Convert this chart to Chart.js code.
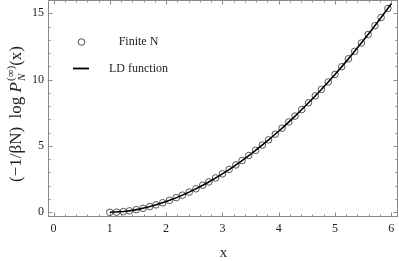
<!DOCTYPE html>
<html>
<head>
<meta charset="utf-8">
<script src="https://cdn.jsdelivr.net/npm/chart.js@4"></script>
<style>
  html, body { margin: 0; padding: 0; background: #fff; }
  #wrap { width: 399px; height: 261px; }
</style>
</head>
<body>
<div id="wrap"><canvas id="chart"></canvas></div>
<script>
// finite N points (circles)
const finiteX = [1.00, 1.12, 1.24, 1.35, 1.47, 1.59, 1.71, 1.82, 1.94, 2.06, 2.18, 2.29, 2.41, 2.53, 2.65,
  2.76, 2.88, 3.00, 3.12, 3.24, 3.35, 3.47, 3.59, 3.71, 3.82, 3.94, 4.06, 4.18, 4.29, 4.41,
  4.53, 4.65, 4.76, 4.88, 5.00, 5.12, 5.24, 5.35, 5.47, 5.59, 5.71, 5.82, 5.94];
const finiteY = [0.00, 0.01, 0.05, 0.11, 0.20, 0.30, 0.43, 0.56, 0.72, 0.90, 1.10, 1.29, 1.52, 1.77, 2.04,
  2.29, 2.59, 2.90, 3.23, 3.57, 3.90, 4.28, 4.67, 5.07, 5.46, 5.89, 6.34, 6.81, 7.25, 7.74,
  8.25, 8.77, 9.27, 9.82, 10.39, 10.97, 11.57, 12.13, 12.76, 13.40, 14.06, 14.68, 15.36];

// LD function curve
const ldX = [1.00, 1.25, 1.50, 1.75, 2.00, 2.25, 2.50, 2.75, 3.00, 3.25, 3.50,
  3.75, 4.00, 4.25, 4.50, 4.75, 5.00, 5.25, 5.50, 5.75, 6.00];
const ldY = [0.00, 0.06, 0.22, 0.47, 0.81, 1.22, 1.71, 2.27, 2.90, 3.60, 4.37,
  5.21, 6.11, 7.08, 8.12, 9.22, 10.39, 11.62, 12.92, 14.28, 15.71];

const xTicks = [0, 1, 2, 3, 4, 5, 6];
const yTicks = [0, 5, 10, 15];

const serif = '"Liberation Serif", "Times New Roman", serif';

const framePlugin = {
  id: 'frame',
  beforeDatasetsDraw(chart) {
    const { ctx, chartArea: a, scales } = chart;
    const xs = scales.x, ys = scales.y;
    ctx.save();
    ctx.strokeStyle = '#8a8a8a';
    ctx.lineWidth = 1;
    ctx.strokeRect(a.left + 0.5, a.top + 0.5, a.right - a.left - 1, a.bottom - a.top - 1);

    ctx.beginPath();
    // x ticks, bottom and top, pointing inward
    for (let i = 0; i <= 30; i++) {
      const v = i * 0.2;
      const px = Math.round(xs.getPixelForValue(v)) + 0.5;
      const len = (i % 5 === 0) ? 4.5 : 2.5;
      ctx.moveTo(px, a.bottom); ctx.lineTo(px, a.bottom - len);
      ctx.moveTo(px, a.top); ctx.lineTo(px, a.top + len);
    }
    // y ticks, left and right
    for (let v = 0; v <= 16; v++) {
      const py = Math.round(ys.getPixelForValue(v)) + 0.5;
      const len = (v % 5 === 0) ? 4.5 : 2.5;
      ctx.moveTo(a.left, py); ctx.lineTo(a.left + len, py);
      ctx.moveTo(a.right, py); ctx.lineTo(a.right - len, py);
    }
    ctx.stroke();

    ctx.fillStyle = '#222';
    ctx.font = '12px ' + serif;
    ctx.textAlign = 'center';
    ctx.textBaseline = 'middle';
    xTicks.forEach(v => ctx.fillText(String(v), xs.getPixelForValue(v), a.bottom + 12));
    ctx.textAlign = 'right';
    yTicks.forEach(v => ctx.fillText(String(v), a.left - 4, ys.getPixelForValue(v)));

    // x axis title
    ctx.textAlign = 'center';
    ctx.font = '15px ' + serif;
    ctx.fillText('x', (a.left + a.right) / 2 + 0.5, 253);

    // y axis title with P_N^(inf)
    ctx.translate(15, 114);
    ctx.rotate(-Math.PI / 2);
    ctx.textAlign = 'left';
    ctx.textBaseline = 'alphabetic';
    const big = '17px ' + serif;
    const bigI = 'italic 17px ' + serif;
    const small = '11px ' + serif;
    const smallI = 'italic 11px ' + serif;
    const parts = [
      { t: '(\u22121/\u03B2N)  log ', f: big },
      { t: 'P', f: bigI }
    ];
    let total = 0;
    parts.forEach(p => { ctx.font = p.f; p.w = ctx.measureText(p.t).width; total += p.w; });
    ctx.font = small; const supW = ctx.measureText('(\u221E)').width;
    ctx.font = smallI; const subW = ctx.measureText('N').width;
    const stackW = Math.max(supW, subW) + 1;
    ctx.font = big; const tailW = ctx.measureText('(x)').width;
    total += stackW + tailW;
    let x = -total / 2;
    const base = 6;
    parts.forEach(p => { ctx.font = p.f; ctx.fillText(p.t, x, base); x += p.w; });
    ctx.font = small; ctx.fillText('(\u221E)', x + 1, base - 7);
    ctx.font = smallI; ctx.fillText('N', x + 1, base + 4);
    x += stackW;
    ctx.font = big; ctx.fillText('(x)', x, base);
    ctx.restore();
  },
  afterDatasetsDraw(chart) {
    const { ctx } = chart;
    ctx.save();
    // legend
    ctx.strokeStyle = '#444';
    ctx.lineWidth = 1;
    ctx.beginPath();
    ctx.arc(81.5, 42, 3.3, 0, Math.PI * 2);
    ctx.stroke();
    ctx.strokeStyle = '#000';
    ctx.lineWidth = 1.8;
    ctx.beginPath();
    ctx.moveTo(73, 68.5); ctx.lineTo(89, 68.5);
    ctx.stroke();
    ctx.fillStyle = '#222';
    ctx.font = '12px ' + serif;
    ctx.textAlign = 'center';
    ctx.textBaseline = 'middle';
    ctx.fillText('Finite N', 138.5, 42);
    ctx.fillText('LD function', 138.5, 68.5);
    ctx.restore();
  }
};

new Chart(document.getElementById('chart'), {
  type: 'scatter',
  data: {
    datasets: [
      {
        label: 'LD function',
        data: ldX.map((v, i) => ({ x: v, y: ldY[i] })),
        showLine: true,
        borderColor: '#000',
        borderWidth: 1.6,
        pointRadius: 0,
        tension: 0.4,
        order: 1
      },
      {
        label: 'Finite N',
        data: finiteX.map((v, i) => ({ x: v, y: finiteY[i] })),
        pointStyle: 'circle',
        pointRadius: 3.3,
        borderColor: '#555',
        borderWidth: 1,
        backgroundColor: 'rgba(0,0,0,0)',
        order: 2
      }
    ]
  },
  options: {
    responsive: true,
    maintainAspectRatio: false,
    animation: false,
    layout: { autoPadding: false, padding: { left: 48, right: 1, top: 0, bottom: 44 } },
    scales: {
      x: { type: 'linear', min: -0.098, max: 6.12, display: false },
      y: { type: 'linear', min: -0.354, max: 16.0, display: false }
    },
    plugins: {
      legend: { display: false },
      tooltip: { enabled: false }
    }
  },
  plugins: [framePlugin]
});
</script>
</body>
</html>
